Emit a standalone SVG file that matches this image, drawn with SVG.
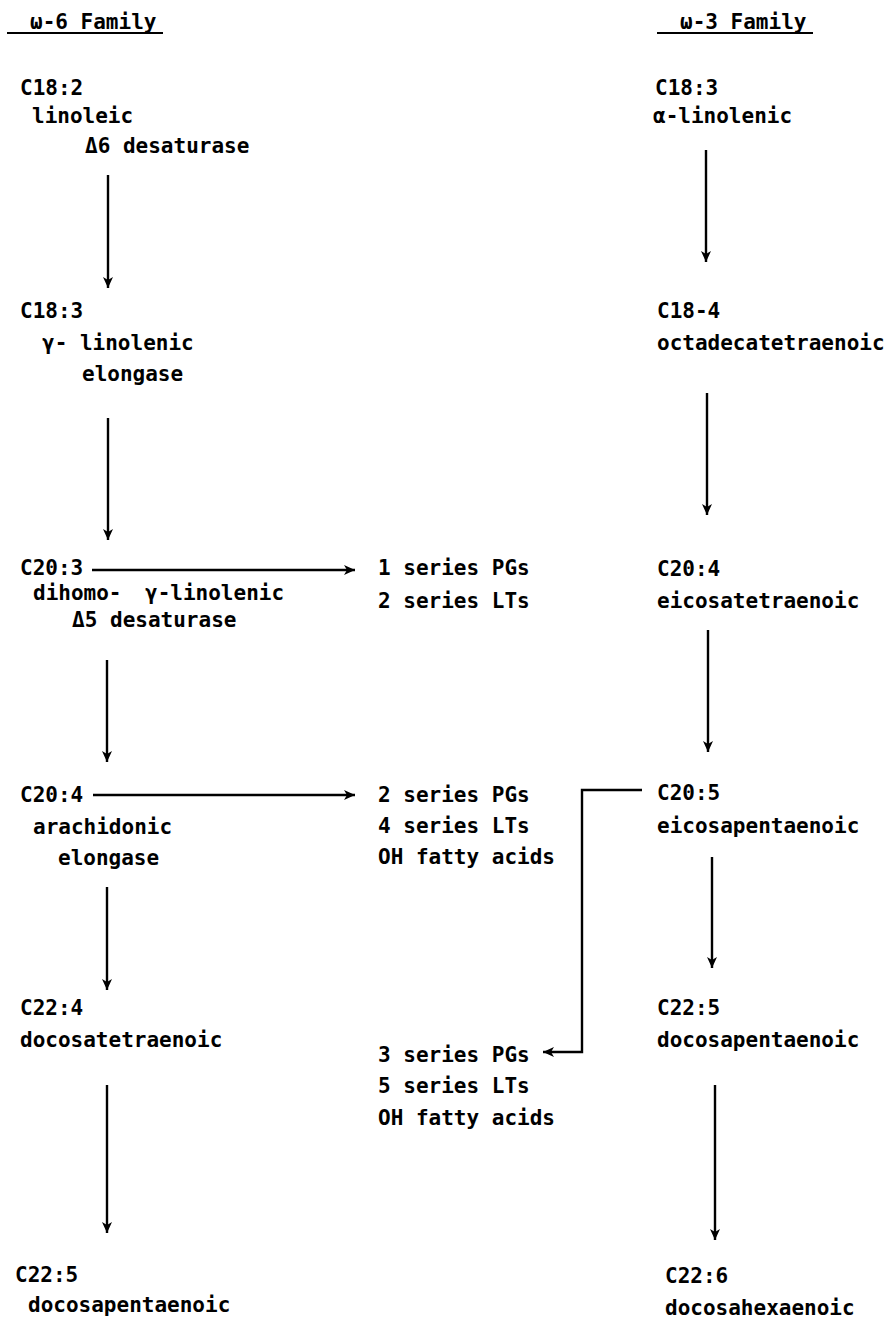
<svg xmlns="http://www.w3.org/2000/svg" width="891" height="1321" viewBox="0 0 891 1321">
<style>
text{font-family:"DejaVu Sans Mono","Liberation Mono",monospace;font-size:21px;font-weight:bold;fill:#000}
.c{stroke:#000;stroke-width:2.4;fill:none}
.u{stroke:#000;stroke-width:2}
</style>
<defs>
<marker id="ah" viewBox="0 0 12 12" refX="11" refY="6" markerWidth="12" markerHeight="12" markerUnits="userSpaceOnUse" orient="auto">
<path d="M0,1 L11,6 L0,11 L3,6 Z" fill="#000"/>
</marker>
</defs>
<rect width="891" height="1321" fill="#fff"/>
<g id="header-w6"><text x="30" y="29">ω-6 Family</text><line class="u" x1="7" y1="33" x2="163" y2="33"/></g>
<g id="header-w3"><text x="680" y="29">ω-3 Family</text><line class="u" x1="657" y1="33" x2="813" y2="33"/></g>

<g id="n-c18-2"><text x="20" y="95">C18:2</text><text x="32" y="123">linoleic</text><text x="85" y="153">Δ6 desaturase</text></g>
<g id="n-c18-3g"><text x="20" y="318">C18:3</text><text x="42" y="350">γ- linolenic</text><text x="82" y="381">elongase</text></g>
<g id="n-c20-3"><text x="20" y="575">C20:3</text><text x="33" y="600">dihomo-<tspan x="145">γ-linolenic</tspan></text><text x="72" y="627">Δ5<tspan x="110">desaturase</tspan></text></g>
<g id="n-c20-4a"><text x="20" y="802">C20:4</text><text x="33" y="834">arachidonic</text><text x="58" y="865">elongase</text></g>
<g id="n-c22-4"><text x="20" y="1015">C22:4</text><text x="20" y="1047">docosatetraenoic</text></g>
<g id="n-c22-5a"><text x="15" y="1282">C22:5</text><text x="28" y="1312">docosapentaenoic</text></g>

<g id="n-pg1"><text x="378" y="575">1 series PGs</text><text x="378" y="608">2 series LTs</text></g>
<g id="n-pg2"><text x="378" y="802">2 series PGs</text><text x="378" y="833">4 series LTs</text><text x="378" y="864">OH fatty acids</text></g>
<g id="n-pg3"><text x="378" y="1062">3 series PGs</text><text x="378" y="1093">5 series LTs</text><text x="378" y="1125">OH fatty acids</text></g>

<g id="n-c18-3a"><text x="655" y="95">C18:3</text><text x="653" y="123">α-linolenic</text></g>
<g id="n-c18-4"><text x="657" y="318">C18-4</text><text x="657" y="350">octadecatetraenoic</text></g>
<g id="n-c20-4b"><text x="657" y="576">C20:4</text><text x="657" y="608">eicosatetraenoic</text></g>
<g id="n-c20-5"><text x="657" y="800">C20:5</text><text x="657" y="833">eicosapentaenoic</text></g>
<g id="n-c22-5b"><text x="657" y="1015">C22:5</text><text x="657" y="1047">docosapentaenoic</text></g>
<g id="n-c22-6"><text x="665" y="1283">C22:6</text><text x="665" y="1315">docosahexaenoic</text></g>

<g id="connectors">
<line class="c" x1="108" y1="175" x2="108" y2="288" marker-end="url(#ah)"/>
<line class="c" x1="108" y1="418" x2="108" y2="540" marker-end="url(#ah)"/>
<line class="c" x1="107" y1="660" x2="107" y2="762" marker-end="url(#ah)"/>
<line class="c" x1="107" y1="887" x2="107" y2="990" marker-end="url(#ah)"/>
<line class="c" x1="107" y1="1085" x2="107" y2="1233" marker-end="url(#ah)"/>
<line class="c" x1="92" y1="570" x2="355" y2="570" marker-end="url(#ah)"/>
<line class="c" x1="93" y1="795" x2="355" y2="795" marker-end="url(#ah)"/>
<line class="c" x1="706" y1="150" x2="706" y2="262" marker-end="url(#ah)"/>
<line class="c" x1="707" y1="393" x2="707" y2="515" marker-end="url(#ah)"/>
<line class="c" x1="708" y1="630" x2="708" y2="752" marker-end="url(#ah)"/>
<line class="c" x1="712" y1="857" x2="712" y2="968" marker-end="url(#ah)"/>
<line class="c" x1="715" y1="1085" x2="715" y2="1240" marker-end="url(#ah)"/>
<polyline class="c" points="642,790 582,790 582,1052 543,1052" marker-end="url(#ah)"/>
</g>
</svg>
